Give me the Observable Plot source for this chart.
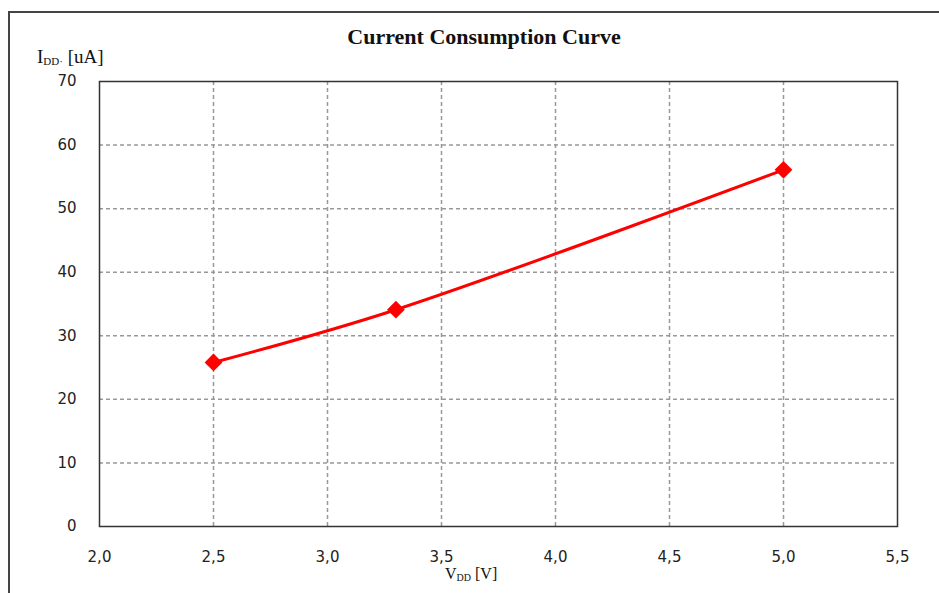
<!DOCTYPE html>
<html><head><meta charset="utf-8">
<script src="https://cdn.jsdelivr.net/npm/d3@7"></script>
<script src="https://cdn.jsdelivr.net/npm/@observablehq/plot@0.6"></script>
<style>
body{margin:0;background:#fff;}
#wrap{position:relative;width:939px;height:593px;overflow:hidden;}
#outer{position:absolute;left:8px;top:11px;width:1000px;height:1000px;border:2px solid #444;box-sizing:border-box;}
#wrap svg{position:absolute;left:0;top:0;}
</style></head><body><div id="wrap"><div id="outer"></div></div>
<script>
const voltage = [2.5, 3.3, 5.0];
const current = [25.8, 34.1, 56.1];
const xTicks = [2.0, 2.5, 3.0, 3.5, 4.0, 4.5, 5.0, 5.5];
const yTicks = [0, 10, 20, 30, 40, 50, 60, 70];
const titleText = "Current Consumption Curve";

const data = voltage.map((v, i) => ({v, c: current[i]}));
const fmt = d => d.toFixed(1).replace(".", ",");

const chart = Plot.plot({
  width: 939, height: 593,
  marginLeft: 99, marginTop: 81, marginRight: 42, marginBottom: 67,
  style: {fontFamily: "'DejaVu Sans', sans-serif", fontSize: "15px", background: "transparent", color: "#222"},
  x: {domain: [2, 5.5]},
  y: {domain: [0, 70]},
  marks: [
    Plot.gridX(xTicks.slice(1, -1), {stroke: "#999", strokeOpacity: 1, strokeDasharray: "4,3", strokeWidth: 1.5}),
    Plot.gridY(yTicks.slice(1, -1), {stroke: "#999", strokeOpacity: 1, strokeDasharray: "4,3", strokeWidth: 1.5}),
    Plot.frame({stroke: "#333", strokeWidth: 1.5}),
    Plot.axisX(xTicks, {tickSize: 0, tickPadding: 25, tickFormat: fmt, label: null}),
    Plot.axisY(yTicks, {tickSize: 0, tickPadding: 23, tickFormat: d => String(d), label: null}),
    Plot.line(data, {x: "v", y: "c", curve: "catmull-rom", stroke: "#ff0000", strokeWidth: 3}),
    Plot.dot(data, {x: "v", y: "c", symbol: "diamond2", r: 8, fill: "#ff0000", stroke: "none"})
  ]
});
document.getElementById("wrap").appendChild(chart);

const svg = d3.select(chart);
svg.append("text")
  .attr("x", 484).attr("y", 44)
  .attr("text-anchor", "middle")
  .style("font-family", "'Liberation Serif', serif")
  .style("font-weight", "bold").style("font-size", "22px").attr("fill", "#111")
  .text(titleText);

const yl = svg.append("text").attr("x", 37).attr("y", 63).attr("text-anchor", "start")
  .style("font-family", "'Liberation Serif', serif").style("font-size", "19px").attr("fill", "#111");
yl.append("tspan").text("I");
yl.append("tspan").attr("dy", 2).style("font-size", "11px").text("DD·");
yl.append("tspan").attr("dy", -2).text(" [uA]");

const xl = svg.append("text").attr("x", 445).attr("y", 579).attr("text-anchor", "start")
  .style("font-family", "'Liberation Serif', serif").style("font-size", "16px").attr("fill", "#111");
xl.append("tspan").text("V");
xl.append("tspan").attr("dy", 2).style("font-size", "10px").text("DD");
xl.append("tspan").attr("dy", -2).text(" [V]");
</script></body></html>
